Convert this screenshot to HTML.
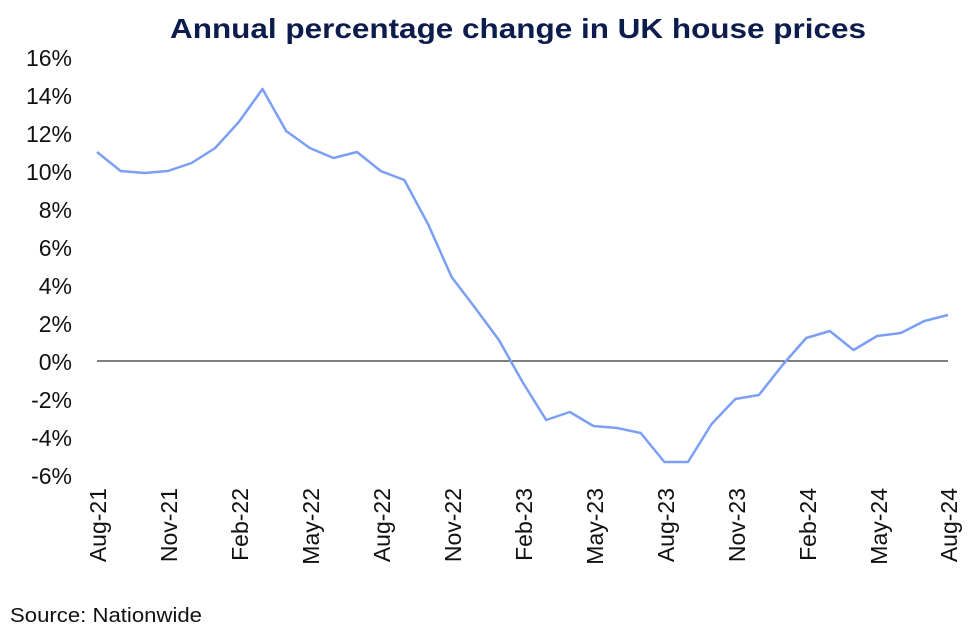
<!DOCTYPE html>
<html><head><meta charset="utf-8"><style>
body{margin:0;background:#fff;width:975px;height:635px;overflow:hidden}
svg{font-family:"Liberation Sans",sans-serif}
</style></head><body>
<svg width="975" height="635" viewBox="0 0 975 635">
<text x="170" y="38" font-size="28" font-weight="bold" fill="#0c1c4c" textLength="696" lengthAdjust="spacingAndGlyphs">Annual percentage change in UK house prices</text>
<g font-size="23" fill="#111" text-anchor="end">
<text x="72" y="66">16%</text><text x="72" y="104">14%</text><text x="72" y="142">12%</text><text x="72" y="180">10%</text><text x="72" y="218">8%</text><text x="72" y="256">6%</text><text x="72" y="294">4%</text><text x="72" y="332">2%</text><text x="72" y="370">0%</text><text x="72" y="408">-2%</text><text x="72" y="446">-4%</text><text x="72" y="484">-6%</text>
</g>
<line x1="97" y1="361" x2="948" y2="361" stroke="#000" stroke-width="1"/>
<polyline fill="none" stroke="#7b9ff5" stroke-width="2.5" stroke-linejoin="round" points="
97,152 120.6,171 144.3,173 167.9,171 191.6,163 215.2,148 238.8,122 262.5,89 286.1,131 309.8,148 333.4,158 357,152 380.7,171 404.3,180 428,224 451.6,277 475.2,308 498.9,340 522.5,382 546.2,420 569.8,412 593.4,426 617.1,428 640.7,433 664.4,462 688,462 711.6,424 735.3,399 758.9,395 782.6,365 806.2,338 829.8,331 853.5,350 877.1,336 900.8,333 924.4,321 948,315"/>
<g font-size="23" fill="#111" text-anchor="end">
<text transform="translate(106,488) rotate(-90)">Aug-21</text>
<text transform="translate(177,488) rotate(-90)">Nov-21</text>
<text transform="translate(248,488) rotate(-90)">Feb-22</text>
<text transform="translate(319,488) rotate(-90)">May-22</text>
<text transform="translate(390,488) rotate(-90)">Aug-22</text>
<text transform="translate(461,488) rotate(-90)">Nov-22</text>
<text transform="translate(532,488) rotate(-90)">Feb-23</text>
<text transform="translate(603,488) rotate(-90)">May-23</text>
<text transform="translate(674,488) rotate(-90)">Aug-23</text>
<text transform="translate(745,488) rotate(-90)">Nov-23</text>
<text transform="translate(816,488) rotate(-90)">Feb-24</text>
<text transform="translate(887,488) rotate(-90)">May-24</text>
<text transform="translate(957,488) rotate(-90)">Aug-24</text>
</g>
<text x="10" y="622" font-size="20" fill="#111" textLength="192" lengthAdjust="spacingAndGlyphs">Source: Nationwide</text>
</svg>
</body></html>
